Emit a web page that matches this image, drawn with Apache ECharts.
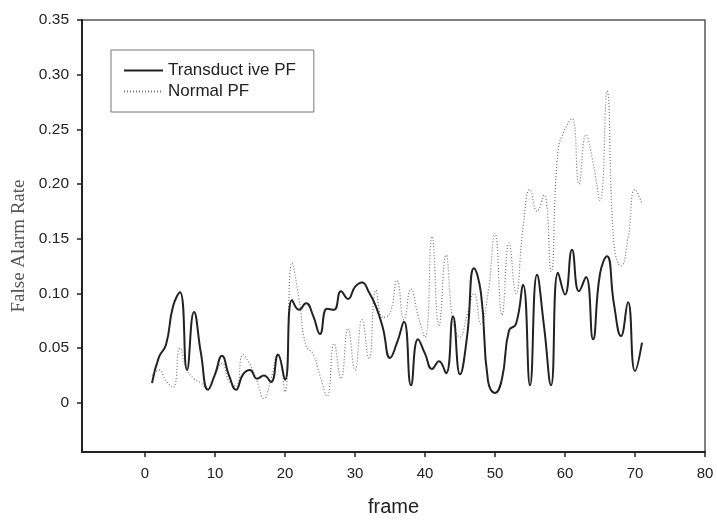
<!DOCTYPE html>
<html>
<head>
<meta charset="utf-8">
<script src="https://cdn.jsdelivr.net/npm/echarts@6/dist/echarts.min.js"></script>
<style>html,body{margin:0;padding:0;background:#fff}#c{width:717px;height:522px}</style>
</head>
<body>
<div id="c"></div>
<script>
const frames = [];
for (let i = 1; i <= 71; i++) frames.push(i);

const transductivePF = [
  0.018, 0.042, 0.053, 0.088, 0.101, 0.030, 0.083, 0.045, 0.012, 0.026,
  0.043, 0.025, 0.012, 0.026, 0.030, 0.022, 0.025, 0.019, 0.044, 0.021,
  0.094, 0.085, 0.091, 0.080, 0.063, 0.086, 0.085, 0.102, 0.095, 0.106,
  0.110, 0.101, 0.088, 0.068, 0.041, 0.055, 0.074, 0.016, 0.058, 0.045,
  0.031, 0.038, 0.027, 0.079, 0.026, 0.060, 0.123, 0.100, 0.020, 0.009,
  0.022, 0.066, 0.072, 0.108, 0.016, 0.117, 0.070, 0.016, 0.119, 0.099,
  0.140, 0.102, 0.115, 0.058, 0.118, 0.134, 0.090, 0.061, 0.092, 0.029,
  0.055
];

const normalPF = [
  0.025, 0.030, 0.020, 0.014, 0.050, 0.030, 0.022, 0.018, 0.012, 0.025,
  0.036, 0.020, 0.015, 0.044, 0.035, 0.020, 0.004, 0.022, 0.045, 0.010,
  0.128, 0.095, 0.052, 0.045, 0.025, 0.006, 0.054, 0.022, 0.068, 0.030,
  0.076, 0.040, 0.103, 0.078, 0.082, 0.112, 0.076, 0.104, 0.080, 0.060,
  0.152, 0.070, 0.135, 0.075, 0.060, 0.080, 0.100, 0.072, 0.100, 0.155,
  0.080, 0.146, 0.100, 0.160, 0.195, 0.175, 0.190, 0.120, 0.230, 0.250,
  0.260, 0.200, 0.245, 0.220, 0.185, 0.285, 0.145, 0.125, 0.150, 0.195,
  0.182
];

const xTicks = [0, 10, 20, 30, 40, 50, 60, 70, 80];
const yTicks = [0, 0.05, 0.10, 0.15, 0.20, 0.25, 0.30, 0.35];

const chart = echarts.init(document.getElementById('c'), null, {renderer: 'canvas'});
const sans = '"Liberation Sans", Arial, sans-serif';

chart.setOption({
  animation: false,
  backgroundColor: '#fff',
  grid: {
    left: 82, right: 12, top: 20, bottom: 66,
    show: true, borderColor: '#555', borderWidth: 1.5, backgroundColor: 'transparent'
  },
  legend: {
    show: true,
    orient: 'vertical',
    left: 111, top: 50,
    padding: [12, 18, 12, 12],
    itemGap: 4,
    itemWidth: 39, itemHeight: 14,
    borderColor: '#777', borderWidth: 1,
    backgroundColor: '#fff',
    itemStyle: {opacity: 0},
    textStyle: {fontFamily: sans, fontSize: 17, color: '#222'},
    data: ['Transduct ive PF', 'Normal PF']
  },
  graphic: [{
    type: 'text',
    x: 19, y: 246,
    rotation: Math.PI / 2,
    style: {
      text: 'False Alarm Rate',
      fontFamily: '"Liberation Serif", "Times New Roman", serif',
      fontSize: 19, fill: '#555',
      align: 'center', verticalAlign: 'middle'
    }
  }],
  xAxis: {
    type: 'value',
    min: -9, max: 80,
    name: 'frame',
    nameLocation: 'middle',
    nameGap: 45,
    nameTextStyle: {fontFamily: sans, fontSize: 20, color: '#222'},
    splitLine: {show: false},
    axisLine: {show: true, onZero: false, lineStyle: {color: '#222', width: 2}},
    axisTick: {show: true, inside: false, length: 5, lineStyle: {color: '#222', width: 1.5}, customValues: xTicks},
    axisLabel: {fontFamily: sans, fontSize: 15, color: '#222', margin: 14, customValues: xTicks}
  },
  yAxis: {
    type: 'value',
    min: -0.045, max: 0.35,
    splitLine: {show: false},
    axisLine: {show: true, onZero: false, lineStyle: {color: '#222', width: 2}},
    axisTick: {show: true, inside: false, length: 5, lineStyle: {color: '#222', width: 1.5}, customValues: yTicks},
    axisLabel: {
      fontFamily: sans, fontSize: 15.5, color: '#222', margin: 13, customValues: yTicks,
      formatter: function (v) { return Math.abs(v) < 1e-9 ? '0' : v.toFixed(2); }
    }
  },
  series: [
    {
      name: 'Transduct ive PF',
      type: 'line',
      data: frames.map((f, i) => [f, transductivePF[i]]),
      smooth: 0.5,
      showSymbol: false,
      symbol: 'none',
      lineStyle: {color: '#222', width: 2},
      itemStyle: {color: '#222'},
      z: 3
    },
    {
      name: 'Normal PF',
      type: 'line',
      data: frames.map((f, i) => [f, normalPF[i]]),
      smooth: 0.5,
      showSymbol: false,
      symbol: 'none',
      lineStyle: {color: '#777', width: 1.2, type: [1, 2]},
      itemStyle: {color: '#777'},
      z: 2
    }
  ]
});
</script>
</body>
</html>
